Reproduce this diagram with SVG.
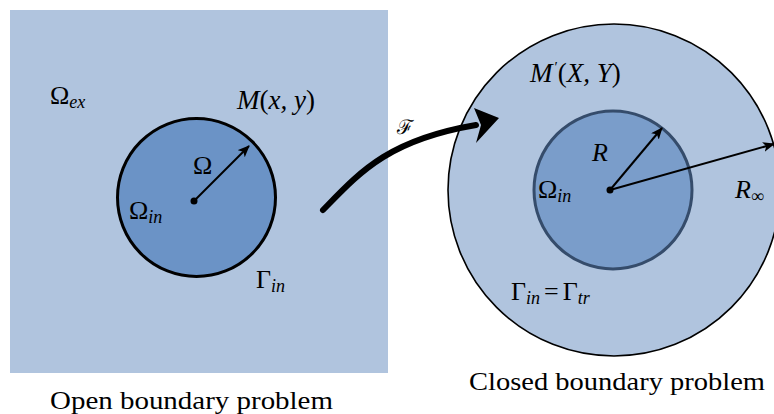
<svg xmlns="http://www.w3.org/2000/svg" width="774" height="414" viewBox="0 0 774 414">
<defs>
<style>
.thin{stroke:#000;stroke-width:2;fill:none}
</style>
<marker id="ah" viewBox="0 0 12 10" refX="11" refY="5" markerWidth="12" markerHeight="10" markerUnits="userSpaceOnUse" orient="auto">
<path d="M0,0 L12,5 L0,10 L3,5 Z" fill="#000"/>
</marker>
</defs>
<g id="open-domain">
<rect x="10" y="10" width="378" height="363" fill="#b0c4de"/>
</g>
<g id="inner-left">
<circle cx="196.5" cy="197.5" r="79" fill="#6b93c6" stroke="#000" stroke-width="3"/>
<circle cx="194" cy="201" r="3.5" fill="#000"/>
</g>
<g id="closed-domain">
<circle cx="614" cy="190" r="166" fill="#b0c4de" stroke="#000" stroke-width="1.6"/>
</g>
<g id="inner-right">
<circle cx="613" cy="190" r="79" fill="#7a9dca" stroke="#354c6b" stroke-width="3"/>
<circle cx="610" cy="190" r="3.5" fill="#000"/>
</g>
<g id="connectors">
<line class="thin" x1="194" y1="201" x2="249" y2="146" marker-end="url(#ah)"/>
<line class="thin" x1="610" y1="190" x2="662" y2="128" marker-end="url(#ah)"/>
<line class="thin" x1="610" y1="190" x2="774" y2="144" marker-end="url(#ah)"/>
<path d="M323,210 C360,172 388,140 476,125" fill="none" stroke="#000" stroke-width="6" stroke-linecap="round"/>
<path d="M499,118 L474,108 L481,125 L476,143 Z" fill="#000"/>
</g>
<g id="labels">
<text font-family="Liberation Serif" font-size="26" x="50" y="104">Ω<tspan font-size="18" font-style="italic" dy="4">ex</tspan></text>
<text font-family="Liberation Serif" font-size="27" font-style="italic" x="237" y="109">M<tspan font-style="normal">(</tspan>x, y<tspan font-style="normal">)</tspan></text>
<text font-family="Liberation Serif" font-size="26" x="193" y="174">Ω</text>
<text font-family="Liberation Serif" font-size="26" x="129" y="219">Ω<tspan font-size="18" font-style="italic" dy="4">in</tspan></text>
<text font-family="Liberation Serif" font-size="26" x="256" y="288">Γ<tspan font-size="18" font-style="italic" dy="4">in</tspan></text>
<text font-family="DejaVu Serif" font-size="20" x="397" y="134">ℱ</text>
<text font-family="Liberation Serif" font-size="27" font-style="italic" x="530" y="82">M<tspan dx="2" dy="-10" font-size="15" font-style="normal">′</tspan><tspan dy="10" font-style="normal">(</tspan>X, Y<tspan font-style="normal">)</tspan></text>
<text font-family="Liberation Serif" font-size="26" font-style="italic" x="592" y="161">R</text>
<text font-family="Liberation Serif" font-size="26" x="538" y="198">Ω<tspan font-size="18" font-style="italic" dy="4">in</tspan></text>
<text font-family="Liberation Serif" font-size="26" font-style="italic" x="735" y="198">R<tspan font-size="18" font-style="normal" dy="4">∞</tspan></text>
<text font-family="Liberation Serif" font-size="26" x="511" y="300">Γ<tspan font-size="18" font-style="italic" dy="4">in</tspan><tspan dx="4" dy="-4">=</tspan><tspan dx="4">Γ</tspan><tspan font-size="18" font-style="italic" dy="4">tr</tspan></text>
<text font-family="Liberation Serif" font-size="26" x="50" y="409" textLength="283" lengthAdjust="spacingAndGlyphs">Open boundary problem</text>
<text font-family="Liberation Serif" font-size="26" x="469" y="390" textLength="296" lengthAdjust="spacingAndGlyphs">Closed boundary problem</text>
</g>
</svg>
